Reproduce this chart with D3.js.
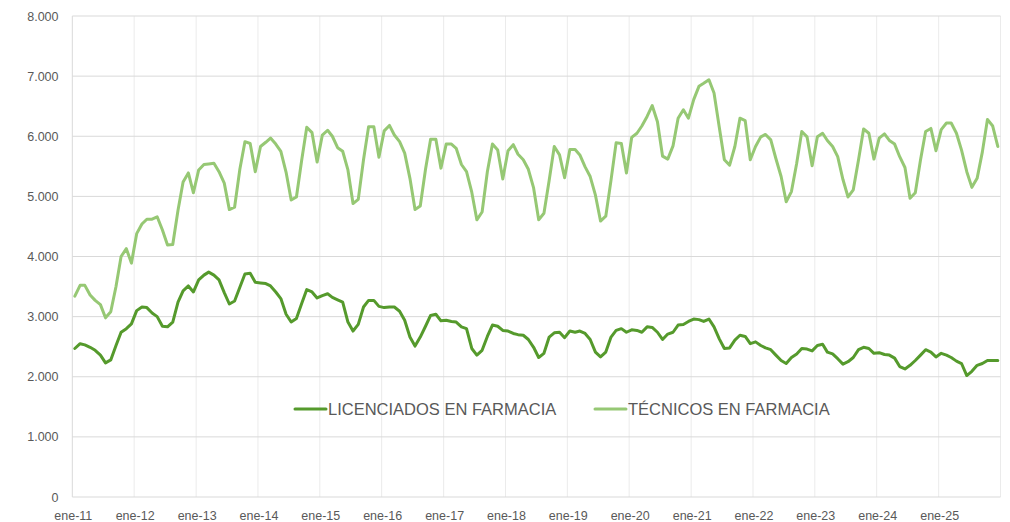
<!DOCTYPE html>
<html>
<head>
<meta charset="utf-8">
<script src="https://d3js.org/d3.v7.min.js"></script>
<style>
  body { margin: 0; background: #ffffff; }
  #chart { width: 1010px; height: 522px; }
</style>
</head>
<body>
<div id="chart"></div>
<script>
// monthly values, ene-11 .. dic-25
var licenciados = [
  2470, 2550, 2530, 2490, 2440, 2360, 2230, 2280, 2520, 2740, 2800, 2880,
  3100, 3160, 3150, 3060, 3000, 2840, 2830, 2910, 3240, 3430, 3510, 3410,
  3610, 3690, 3740, 3690, 3610, 3400, 3210, 3260, 3490, 3710, 3720, 3570,
  3560, 3550, 3510, 3410, 3300, 3040, 2910, 2970, 3220, 3450, 3410, 3310,
  3350, 3380, 3320, 3280, 3240, 2910, 2760, 2870, 3160, 3270, 3270, 3170,
  3150, 3160, 3160, 3090, 2940, 2660, 2510, 2660, 2840, 3020, 3040, 2930,
  2940, 2920, 2910, 2830, 2800, 2470, 2360, 2440, 2670, 2860, 2840, 2770,
  2760, 2720, 2700, 2690, 2620, 2490, 2320, 2390, 2660, 2730, 2740, 2650,
  2760, 2740, 2760, 2720, 2620, 2410, 2330, 2410, 2660, 2770, 2800, 2740,
  2780, 2770, 2740, 2830, 2820, 2740, 2620, 2710, 2740, 2860, 2870, 2920,
  2960, 2950, 2920, 2960, 2830, 2630, 2470, 2480, 2610, 2690, 2670, 2550,
  2580, 2520, 2480, 2450, 2360, 2270, 2220, 2320, 2380, 2470, 2460, 2430,
  2520, 2540, 2410, 2380, 2300, 2210, 2250, 2320, 2450, 2490, 2470, 2390,
  2400, 2370, 2360, 2310, 2170, 2130, 2190, 2270, 2360, 2450, 2410, 2330,
  2390, 2360, 2320, 2260, 2220, 2020, 2090, 2190, 2220, 2270, 2270, 2270
];

var tecnicos = [
  3340, 3520, 3520, 3360, 3270, 3200, 2980, 3080, 3500, 4000, 4130, 3890,
  4380, 4540, 4620, 4620, 4660, 4440, 4190, 4200, 4770, 5240, 5390, 5060,
  5440, 5530, 5540, 5550, 5410, 5220, 4780, 4820, 5450, 5910, 5880, 5410,
  5830, 5900, 5970, 5870, 5750, 5400, 4940, 4990, 5600, 6150, 6060, 5570,
  6020, 6100, 6000, 5810, 5750, 5440, 4880, 4950, 5610, 6160, 6160, 5650,
  6090, 6180, 6020, 5910, 5720, 5300, 4780, 4840, 5450, 5950, 5950, 5470,
  5870, 5870, 5800, 5530, 5410, 5070, 4610, 4740, 5410, 5870, 5770, 5290,
  5760, 5860, 5700, 5610, 5450, 5140, 4610, 4720, 5270, 5830, 5690, 5310,
  5780, 5780, 5690, 5490, 5330, 5020, 4590, 4670, 5270, 5890, 5880, 5390,
  5980, 6050, 6170, 6330, 6510, 6240, 5670, 5620, 5840, 6300, 6440, 6300,
  6610, 6830, 6880, 6940, 6720, 6150, 5610, 5520, 5830, 6300, 6260, 5610,
  5830, 5990, 6030, 5940, 5630, 5330, 4910, 5080, 5550, 6080, 5990, 5510,
  5990, 6050, 5930, 5830, 5660, 5280, 4990, 5110, 5610, 6120, 6050, 5620,
  5970, 6040, 5930, 5870, 5660, 5480, 4970, 5060, 5610, 6080, 6130, 5760,
  6110, 6220, 6220, 6050, 5770, 5410, 5150, 5300, 5740, 6280, 6170, 5830
];

var seriesNames = ['LICENCIADOS EN FARMACIA', 'TÉCNICOS EN FARMACIA'];
var seriesColors = ['#559a2c', '#96c874'];

var yTicks = [0, 1000, 2000, 3000, 4000, 5000, 6000, 7000, 8000];
var xTickLabels = ['ene-11', 'ene-12', 'ene-13', 'ene-14', 'ene-15', 'ene-16', 'ene-17', 'ene-18',
  'ene-19', 'ene-20', 'ene-21', 'ene-22', 'ene-23', 'ene-24', 'ene-25'];

var width = 1010;
var height = 522;
var plotLeft = 72.3;
var plotRight = 1000.5;
var plotTop = 16;
var plotBottom = 497;
var textColour = '#595959';

var es = d3.formatLocale({ decimal: ',', thousands: '.', grouping: [3], currency: ['', ' €'] });
var fmt = es.format(',d');

var start = new Date(2011, 0, 1);
var end = new Date(2026, 0, 1);

var x = d3.scaleTime().domain([start, end]).range([plotLeft, plotRight]);
var y = d3.scaleLinear().domain([0, 8000]).range([plotBottom, plotTop]);

// each monthly value sits in the middle of its month
function monthDate(i) {
  return new Date(2011, i, 16);
}

var svg = d3.select('#chart')
  .append('svg')
  .attr('width', width)
  .attr('height', height);

svg.append('rect')
  .attr('width', width)
  .attr('height', height)
  .attr('fill', '#ffffff');

// vertical gridlines, one per year
var years = d3.timeYear.range(start, d3.timeYear.offset(end, 1));
svg.append('g')
  .selectAll('line')
  .data(years)
  .enter()
  .append('line')
  .attr('x1', function (d) { return x(d); })
  .attr('x2', function (d) { return x(d); })
  .attr('y1', plotTop)
  .attr('y2', plotBottom)
  .attr('stroke', function (d, i) { return i === 0 ? '#d9d9d9' : '#ebebeb'; })
  .attr('stroke-width', 1);

// horizontal gridlines
svg.append('g')
  .selectAll('line')
  .data(yTicks)
  .enter()
  .append('line')
  .attr('x1', plotLeft)
  .attr('x2', plotRight)
  .attr('y1', function (d) { return y(d); })
  .attr('y2', function (d) { return y(d); })
  .attr('stroke', '#d9d9d9')
  .attr('stroke-width', 1);

svg.append('g')
  .selectAll('text')
  .data(yTicks)
  .enter()
  .append('text')
  .attr('x', 58.5)
  .attr('y', function (d) { return y(d) + 4.5; })
  .attr('text-anchor', 'end')
  .attr('font-family', 'Liberation Sans, Arial, sans-serif')
  .attr('font-size', 12.5)
  .attr('fill', textColour)
  .text(function (d) { return fmt(d); });

svg.append('g')
  .selectAll('text')
  .data(xTickLabels)
  .enter()
  .append('text')
  .attr('x', function (d, i) { return x(years[i]) + 1; })
  .attr('y', 519.5)
  .attr('text-anchor', 'middle')
  .attr('font-family', 'Liberation Sans, Arial, sans-serif')
  .attr('font-size', 12.5)
  .attr('fill', textColour)
  .text(function (d) { return d; });

var line = d3.line()
  .x(function (d, i) { return x(monthDate(i)); })
  .y(function (d) { return y(d); });

var allSeries = [tecnicos, licenciados];
var allColours = [seriesColors[1], seriesColors[0]];

svg.append('g')
  .selectAll('path')
  .data(allSeries)
  .enter()
  .append('path')
  .attr('d', line)
  .attr('fill', 'none')
  .attr('stroke', function (d, i) { return allColours[i]; })
  .attr('stroke-width', 3)
  .attr('stroke-linejoin', 'round')
  .attr('stroke-linecap', 'round');

// legend
var legendX = [295, 595];
var legendY = 409;
var legend = svg.append('g')
  .selectAll('g')
  .data(seriesNames)
  .enter()
  .append('g')
  .attr('transform', function (d, i) { return 'translate(' + legendX[i] + ',' + legendY + ')'; });

legend.append('line')
  .attr('x1', 0)
  .attr('x2', 31)
  .attr('y1', 0)
  .attr('y2', 0)
  .attr('stroke', function (d, i) { return seriesColors[i]; })
  .attr('stroke-width', 3)
  .attr('stroke-linecap', 'round');

legend.append('text')
  .attr('x', 33)
  .attr('y', 6)
  .attr('font-family', 'Liberation Sans, Arial, sans-serif')
  .attr('font-size', 16.5)
  .attr('fill', textColour)
  .text(function (d) { return d; });
</script>
</body>
</html>
